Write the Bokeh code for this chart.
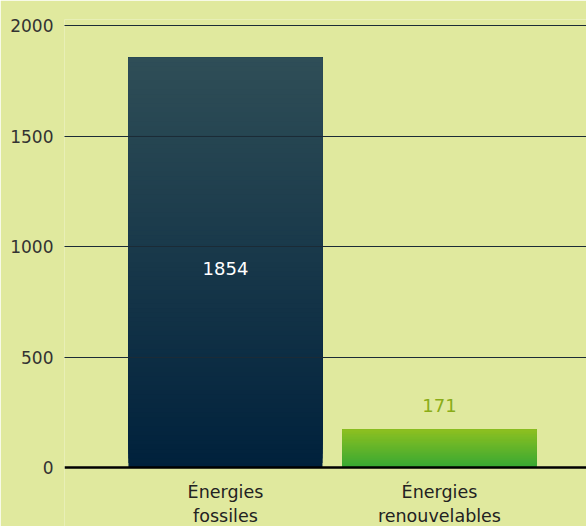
import numpy as np
from bokeh.plotting import figure
from bokeh.models import FixedTicker, Range1d, Span
from bokeh.core.properties import value
from bokeh.embed import file_html
from bokeh.resources import INLINE

categories = ["Énergies\nfossiles", "Énergies\nrenouvelables"]
values = [1854, 171]
y_ticks = [0, 500, 1000, 1500, 2000]

BG = "#e0e99e"
FONT = "DejaVu Sans"
PX_PER_UNIT = 0.221  # vertical scale of the reference, pixels per unit

p = figure(width=586, height=526, output_backend="svg", toolbar_location=None,
           x_range=Range1d(-0.752, 1.687),
           y_range=Range1d(-59 / PX_PER_UNIT, 2000 + 6 / PX_PER_UNIT),
           min_border_left=64, min_border_right=0, min_border_top=19, min_border_bottom=0)
p.background_fill_color = BG
p.border_fill_color = BG
p.outline_line_color = None


def hex2rgb(h):
    h = h.lstrip("#")
    return np.array([int(h[i:i + 2], 16) for i in (0, 2, 4)], dtype=float)


def rgb2hex(c):
    return "#%02x%02x%02x" % tuple(int(round(v)) for v in c)


grads = [("#2f4e57", "#00213c"), ("#8dc021", "#37a834")]
bar_w = 0.9065
N = 90
for i, (v, (top_c, bot_c)) in enumerate(zip(values, grads)):
    t0, b0 = hex2rgb(top_c), hex2rgb(bot_c)
    fr = np.linspace(0, 1, N + 1)
    bottoms = v * fr[:-1]
    tops = np.full(N, float(v))
    cols = [rgb2hex(b0 + (t0 - b0) * f) for f in (fr[:-1] + fr[1:]) / 2]
    p.quad(left=[i - bar_w / 2] * N, right=[i + bar_w / 2] * N, bottom=bottoms, top=tops,
           fill_color=cols, line_color=None)

# value labels
p.text(x=[0], y=[values[0] / 2], text=[str(values[0])], text_color="#ffffff",
       text_font=value(FONT), text_font_size="18px", text_align="center", text_baseline="middle",
       y_offset=6)
p.text(x=[1], y=[values[1]], text=[str(values[1])], text_color="#8aac17",
       text_font=value(FONT), text_font_size="18px", text_align="center", text_baseline="middle",
       y_offset=-24)

# category labels below the zero line
p.text(x=list(range(len(categories))), y=[0] * len(categories), text=categories,
       text_color="#222222", text_font=value(FONT), text_font_size="17.5px",
       text_align="center", text_baseline="top", text_line_height=1.2, y_offset=14)

p.ygrid.ticker = FixedTicker(ticks=y_ticks[1:])
p.ygrid.grid_line_color = "#1b2b36"
p.ygrid.grid_line_width = 1
p.ygrid.level = "overlay"
p.xgrid.grid_line_color = None

zero = Span(location=0, dimension="width", line_color="#000000", line_width=2.5, level="overlay")
p.add_layout(zero)

ya = p.yaxis[0]
ya.ticker = FixedTicker(ticks=y_ticks)
ya.axis_line_color = None
ya.major_tick_line_color = None
ya.minor_tick_line_color = None
ya.major_tick_out = 0
ya.major_tick_in = 0
ya.major_label_standoff = 11
ya.major_label_text_font = FONT
ya.major_label_text_font_size = "17px"
ya.major_label_text_color = "#333333"

p.xaxis.visible = False

open("out.html", "w").write(file_html(p, INLINE))
